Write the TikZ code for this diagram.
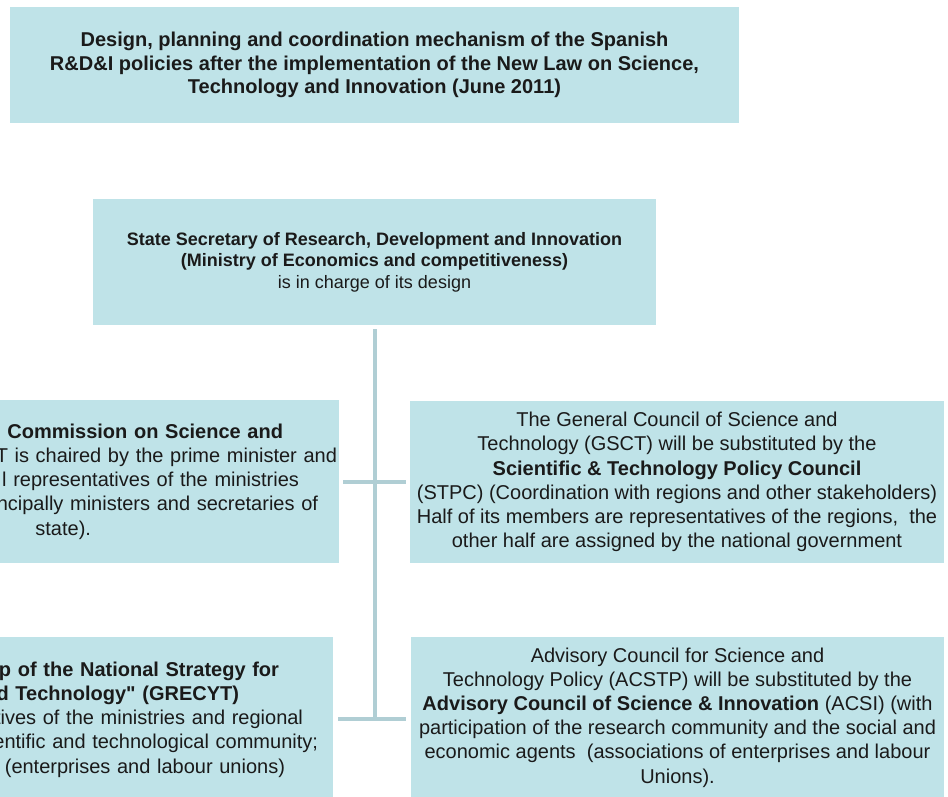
\documentclass[tikz,border=0pt]{standalone}
\usepackage{fontspec}
\setmainfont{Liberation Sans}
\newfontfamily\nomapfont{Liberation Sans}
\definecolor{boxfill}{RGB}{191,227,232}
\definecolor{linec}{RGB}{176,206,212}
\definecolor{textc}{RGB}{26,26,26}
\newcommand{\mytrail}[1]{\hbox to #1{}}
\newcommand{\straightquote}{{\nomapfont\bfseries"}}
\begin{document}
\begin{tikzpicture}[x=1pt,y=-1pt,
  box/.style={rectangle, fill=boxfill, draw=none, inner sep=0pt, text=textc},
  bigtxt/.style={font=\fontsize{20}{24.2}\selectfont},
  link/.style={draw=linec, line width=3.5pt}]
\useasboundingbox (0,0) rectangle (948,796);
\clip (0,0) rectangle (948,796);
\fill[white] (0,0) rectangle (948,796);

\node[box, minimum width=729pt, minimum height=116pt, align=center,
  font=\fontsize{20}{23.5}\selectfont\bfseries] (title) at (374.5,65)
  {Design, planning and coordination mechanism of the Spanish\\
   R\&D\&I policies after the implementation of the New Law on Science,\\
   Technology and Innovation (June 2011)};

\node[box, minimum width=563pt, minimum height=126pt, align=center,
  font=\fontsize{18}{21.5}\selectfont] (sec) at (374.5,262)
  {\textbf{State Secretary of Research, Development and Innovation}\\
   \textbf{(Ministry of Economics and competitiveness)}\\
   is in charge of its design};

\node[box, bigtxt, minimum width=534pt, minimum height=163pt,
  text width=530pt, align=right] (l1) at (72,481.5)
  {\textbf{Commission on Science and}\mytrail{54pt}\\
   T is chaired by the prime minister and\\
   l representatives of the ministries\mytrail{38pt}\\
   ncipally ministers and secretaries of\mytrail{19pt}\\
   state).\mytrail{246pt}};

\node[box, bigtxt, minimum width=534pt, minimum height=162pt, align=center] (r1) at (677,482)
  {The General Council of Science and\\
   Technology (GSCT) will be substituted by the\\
   \textbf{Scientific \& Technology Policy Council}\\
   (STPC) (Coordination with regions and other stakeholders)\\
   Half of its members are representatives of the regions,\ \ the\\
   other half are assigned by the national government};

\node[box, bigtxt, minimum width=528pt, minimum height=165pt,
  text width=498pt, align=right] (l2) at (69,719.5)
  {\textbf{p of the National Strategy for}\mytrail{39pt}\\
   \textbf{d Technology\straightquote{} (GRECYT)}\mytrail{79pt}\\
   tives of the ministries and regional\mytrail{15pt}\\
   entific and technological community;\\
   (enterprises and labour unions)\mytrail{33pt}};

\node[box, bigtxt, minimum width=533pt, minimum height=161pt, align=center] (r2) at (677.5,717.5)
  {Advisory Council for Science and\\
   Technology Policy (ACSTP) will be substituted by the\\
   \textbf{Advisory Council of Science \& Innovation} (ACSI) (with\\
   participation of the research community and the social and\\
   economic agents\ \ (associations of enterprises and labour\\
   Unions).};

\coordinate (j1) at (375,482);
\coordinate (j2) at (375,719);

\draw[link] ([yshift=-4pt]sec.south -| j1) -- (j2);
\draw[link] ([xshift=4pt]l1.east |- j1) -- ([xshift=-4pt]r1.west |- j1);
\draw[link] ([xshift=5pt]l2.east |- j2) -- ([xshift=-5pt]r2.west |- j2);
\end{tikzpicture}
\end{document}
